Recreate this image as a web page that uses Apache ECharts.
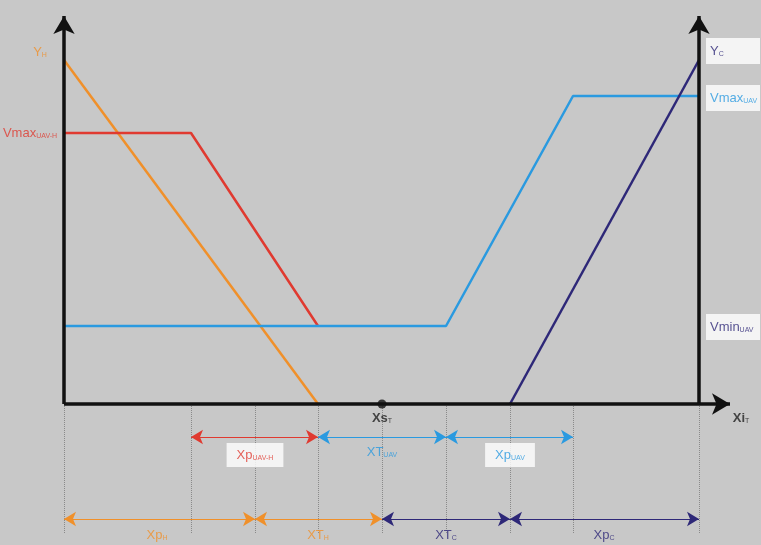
<!DOCTYPE html>
<html><head><meta charset="utf-8">
<script src="https://cdn.jsdelivr.net/npm/echarts@6/dist/echarts.min.js"></script>
<style>html,body{margin:0;padding:0;background:#c8c8c8}#c{width:761px;height:545px}</style>
</head><body><div id="c"></div>
<script>
// diagram units: x in px from left, y = height above the Xi axis
var breakX = [64, 191, 255, 318, 382, 446, 510, 573, 699];
var yH = [[64, 344], [318, 0]];
var vUavH = [[64, 271], [191, 271], [318, 78]];
var vUav = [[64, 78], [446, 78], [573, 308], [699, 308]];
var yC = [[510, 0], [699, 344]];
var xsT = [382, 0];

var ORANGE = '#f0902a', RED = '#e03a30', LBLUE = '#2a9ae0', NAVY = '#2e2878';

var arrows = [
  [191, 318, -33, RED], [318, 446, -33, LBLUE], [446, 573, -33, LBLUE],
  [64, 255, -115, ORANGE], [255, 382, -115, ORANGE], [382, 510, -115, NAVY], [510, 699, -115, NAVY]
];
// [text main, subscript, x, y, color, boxed]
var labels = [
  ['Y', 'H', 40, 352, ORANGE, false],
  ['Vmax', 'UAV-H', 30, 271, RED, false],
  ['Y', 'C', 733, 353, NAVY, true],
  ['Vmax', 'UAV', 733, 306, LBLUE, true],
  ['Vmin', 'UAV', 733, 77, NAVY, true],
  ['Xs', 'T', 382, -14, '#222', false],
  ['Xi', 'T', 741, -14, '#222', false],
  ['Xp', 'UAV-H', 255, -51, RED, true],
  ['XT', 'UAV', 382, -48, LBLUE, false],
  ['Xp', 'UAV', 510, -51, LBLUE, true],
  ['Xp', 'H', 157, -131, ORANGE, false],
  ['XT', 'H', 318, -131, ORANGE, false],
  ['XT', 'C', 446, -131, NAVY, false],
  ['Xp', 'C', 604, -131, NAVY, false]
];

function line(data, color) {
  return { type: 'line', data: data, symbol: 'none', lineStyle: { color: color, width: 2.5 }, z: 3, silent: true };
}
var series = [
  line(yH, ORANGE), line(vUavH, RED), line(vUav, LBLUE), line(yC, NAVY),
  {
    type: 'line', data: [], silent: true,
    markLine: {
      silent: true, symbol: ['none', 'none'], label: { show: false },
      lineStyle: { type: 'dotted', color: '#8a8a8a', width: 1 },
      data: breakX.map(function (x) { return [{ coord: [x, 0] }, { coord: [x, -130] }]; })
    }
  },
  {
    type: 'line', data: [], silent: true, z: 5,
    markLine: {
      silent: true, symbol: ['none', 'arrow'], symbolSize: [16, 18], label: { show: false },
      lineStyle: { type: 'solid', color: '#111', width: 3.5 },
      data: [
        [{ coord: [64, 0] }, { coord: [64, 388] }],
        [{ coord: [699, 0] }, { coord: [699, 388] }],
        [{ coord: [64, 0] }, { coord: [730, 0] }]
      ]
    }
  }
];
arrows.forEach(function (a) {
  series.push({
    type: 'line', data: [], silent: true,
    markLine: {
      silent: true, symbol: ['arrow', 'arrow'], symbolSize: [11, 12], label: { show: false },
      lineStyle: { type: 'solid', color: a[3], width: 1 },
      data: [[{ coord: [a[0], a[2]] }, { coord: [a[1], a[2]] }]]
    }
  });
});
series.push({
  type: 'scatter', symbolSize: 9, data: [xsT], itemStyle: { color: '#111' }, z: 6, silent: true
});
series.push({
  type: 'scatter', symbolSize: 0, silent: true, z: 7,
  data: labels.map(function (l) {
    var bold = (l[0] === 'Xs' || l[0] === 'Xi');
    var right = l[2] > 720 && l[5];
    return {
      value: [l[2], l[3]],
      label: {
        color: l[4],
        backgroundColor: l[5] ? '#ffffff' : 'transparent',
        padding: l[5] ? (right ? [6, 4, 6, 4] : [5, 10, 5, 10]) : 0,
        width: right ? 46 : null,
        align: right ? 'left' : 'center',
        offset: right ? [-27, 0] : [0, 0],
        formatter: '{m|' + l[0] + '}{s|' + l[1] + '}',
        rich: {
          m: { color: l[4], fontSize: 13, fontFamily: 'Liberation Sans', fontWeight: bold ? 'bold' : 'normal' },
          s: { color: l[4], fontSize: 7, fontFamily: 'Liberation Sans', verticalAlign: 'bottom', padding: [7, 0, 0, 0] }
        }
      }
    };
  }),
  label: { show: true, position: 'inside' }
});

var chart = echarts.init(document.getElementById('c'));
chart.setOption({
  backgroundColor: '#c8c8c8',
  animation: false,
  grid: { left: 0, right: 0, top: 0, bottom: 0 },
  xAxis: { type: 'value', min: 0, max: 761, show: false },
  yAxis: { type: 'value', min: -141, max: 404, show: false },
  series: series
});
</script></body></html>
